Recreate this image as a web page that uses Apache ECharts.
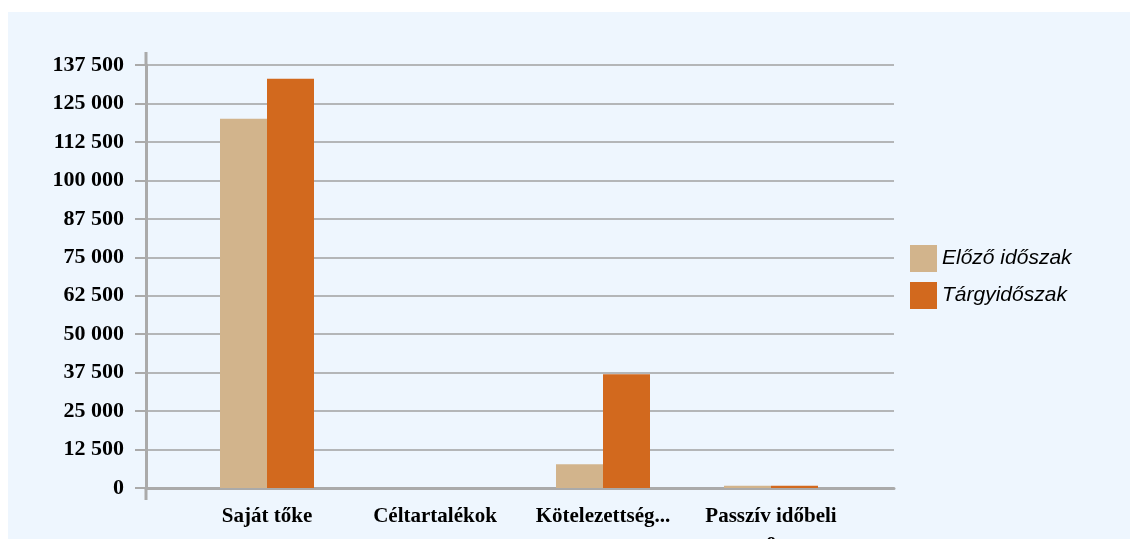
<!DOCTYPE html>
<html>
<head>
<meta charset="utf-8">
<script src="https://cdn.jsdelivr.net/npm/echarts@6/dist/echarts.min.js"></script>
<style>
  html, body { margin: 0; padding: 0; background: #ffffff; }
  #panel { position: absolute; left: 8px; top: 12px; width: 1122px; height: 527px; background: #EEF6FE; }
  #chart { position: absolute; left: 0; top: 0; width: 1130px; height: 539px; }
</style>
</head>
<body>
<div id="panel"></div>
<div id="chart"></div>
<script>
const categories = ['Saját tőke', 'Céltartalékok', 'Kötelezettség...', 'Passzív időbeli\ne'];
const seriesNames = ['Előző időszak', 'Tárgyidőszak'];
const previousPeriod = [120000, 0, 7700, 750];
const currentPeriod = [133000, 0, 37000, 750];
const yMin = 0, yMax = 137500, yStep = 12500;

const chart = echarts.init(document.getElementById('chart'), null, { renderer: 'canvas' });
const fmt = v => String(v).replace(/\B(?=(\d{3})+(?!\d))/g, ' ');
const serif = '"Liberation Serif", "DejaVu Serif", serif';

chart.setOption({
  backgroundColor: 'transparent',
  animation: false,
  grid: [
    { left: 146, right: 236, top: 65, bottom: 51, containLabel: false, outerBoundsMode: 'none' },
    { left: 183, right: 275, top: 65, bottom: 51, containLabel: false, outerBoundsMode: 'none' }
  ],
  legend: {
    orient: 'vertical',
    left: 905,
    top: 240,
    itemWidth: 27,
    itemHeight: 27,
    itemGap: 10,
    icon: 'rect',
    data: seriesNames,
    textStyle: { fontFamily: '"Liberation Sans", Arial, sans-serif', fontStyle: 'italic', fontSize: 21, color: '#000' }
  },
  xAxis: [
    {
      gridIndex: 0, type: 'category', data: [''],
      axisLine: { show: true, lineStyle: { color: '#aaaaaa', width: 3 } },
      axisTick: { show: false }, axisLabel: { show: false }, splitLine: { show: false }
    },
    {
      gridIndex: 1, type: 'category', data: categories,
      axisLine: { show: false }, axisTick: { show: false },
      axisLabel: { margin: 16, fontFamily: serif, fontWeight: 'bold', fontSize: 21, color: '#000', lineHeight: 25, interval: 0 }
    }
  ],
  yAxis: [
    {
      gridIndex: 0, type: 'value', min: yMin, max: yMax, interval: yStep,
      axisLine: { show: true, lineStyle: { color: '#aaaaaa', width: 3 } },
      axisTick: { show: true, length: 11, lineStyle: { color: '#aaaaaa', width: 2 } },
      axisLabel: { margin: 22, formatter: fmt, fontFamily: serif, fontWeight: 'bold', fontSize: 22, color: '#000' },
      splitLine: { show: true, lineStyle: { color: '#a0a0a0', width: 1.5 } }
    },
    {
      gridIndex: 1, type: 'value', min: yMin, max: yMax, interval: yStep, show: false,
      splitLine: { show: false }
    }
  ],
  graphic: [
    { type: 'line', shape: { x1: 146, y1: 52, x2: 146, y2: 65 }, style: { stroke: '#aaaaaa', lineWidth: 3 }, z: 1 },
    { type: 'line', shape: { x1: 146, y1: 488, x2: 146, y2: 500 }, style: { stroke: '#aaaaaa', lineWidth: 3 }, z: 1 }
  ],
  series: [
    {
      name: seriesNames[0], type: 'bar', xAxisIndex: 1, yAxisIndex: 1,
      data: previousPeriod, barWidth: 47, barGap: '0%',
      itemStyle: { color: '#D2B48C' }, z: 3
    },
    {
      name: seriesNames[1], type: 'bar', xAxisIndex: 1, yAxisIndex: 1,
      data: currentPeriod, barWidth: 47, barGap: '0%',
      itemStyle: { color: '#D2691E' }, z: 3
    }
  ]
});
</script>
</body>
</html>
